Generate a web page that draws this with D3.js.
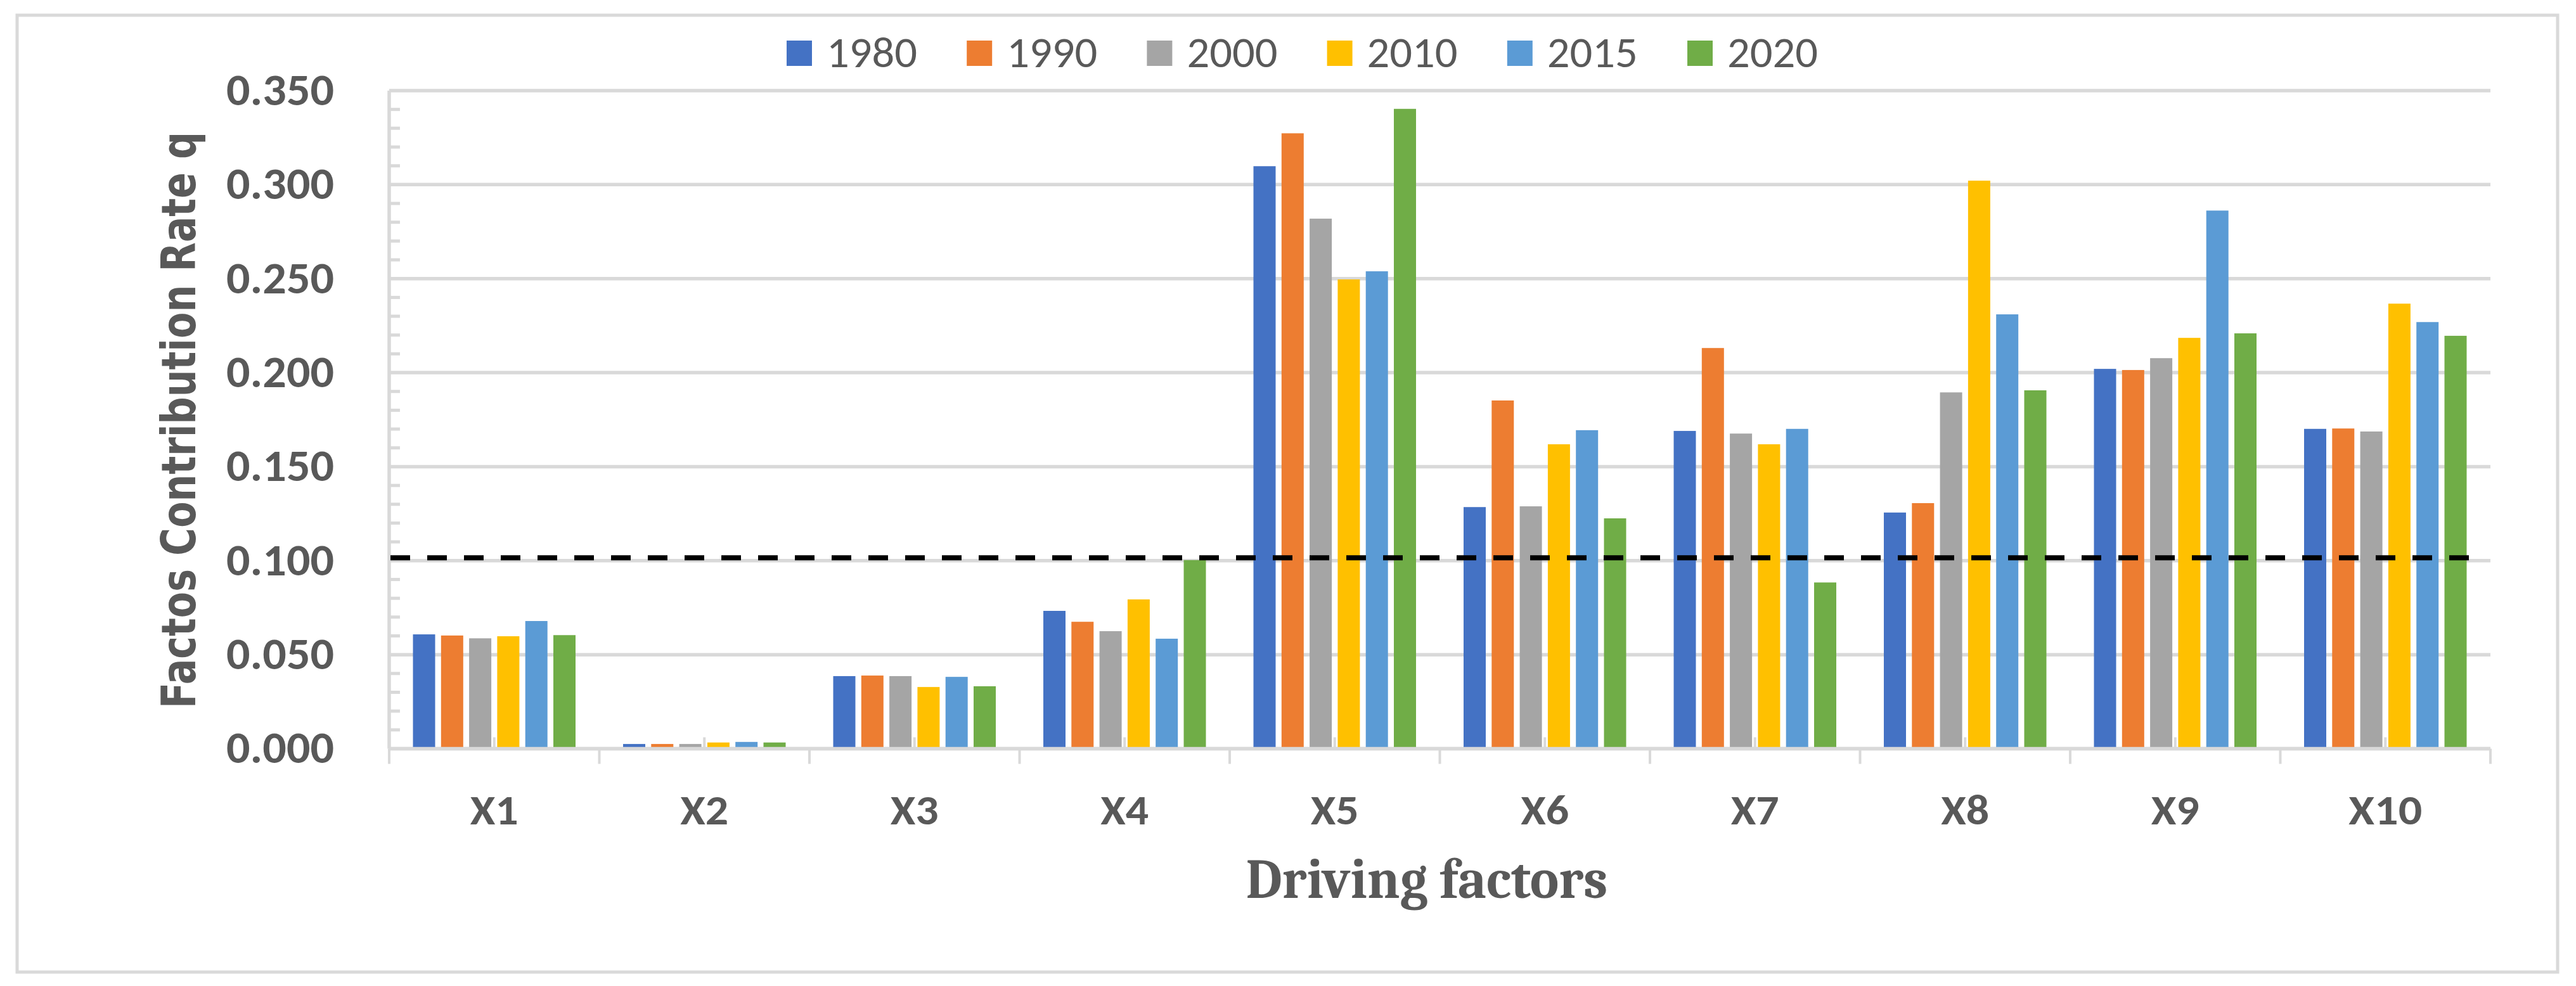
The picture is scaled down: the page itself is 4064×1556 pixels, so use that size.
<!DOCTYPE html>
<html>
<head>
<meta charset="utf-8">
<script src="https://cdn.jsdelivr.net/npm/d3@7"></script>
<style>
  body { margin: 0; background: #fff; }
  svg { display: block; }
</style>
</head>
<body>
<div id="chart"></div>
<script>
var categories = ['X1', 'X2', 'X3', 'X4', 'X5', 'X6', 'X7', 'X8', 'X9', 'X10'];
var years = ['1980', '1990', '2000', '2010', '2015', '2020'];

var v1980 = [0.0608, 0.0025, 0.0386, 0.0733, 0.3098, 0.1285, 0.1690, 0.1256, 0.2020, 0.1701];
var v1990 = [0.0602, 0.0025, 0.0389, 0.0675, 0.3273, 0.1852, 0.2131, 0.1306, 0.2014, 0.1703];
var v2000 = [0.0587, 0.0025, 0.0386, 0.0625, 0.2819, 0.1289, 0.1676, 0.1895, 0.2077, 0.1687];
var v2010 = [0.0598, 0.0033, 0.0328, 0.0794, 0.2496, 0.1619, 0.1619, 0.3021, 0.2185, 0.2367];
var v2015 = [0.0679, 0.0036, 0.0382, 0.0585, 0.2539, 0.1694, 0.1701, 0.2310, 0.2862, 0.2269];
var v2020 = [0.0604, 0.0033, 0.0332, 0.1003, 0.3403, 0.1225, 0.0884, 0.1906, 0.2209, 0.2196];

var yTicks = [0, 0.05, 0.10, 0.15, 0.20, 0.25, 0.30, 0.35];
var threshold = 0.1015;

var series = [v1980, v1990, v2000, v2010, v2015, v2020];
var colors = ['#4472C4', '#ED7D31', '#A5A5A5', '#FFC000', '#5B9BD5', '#70AD47'];

var W = 4064, H = 1556,
    plotLeft = 614, plotRight = 3929, plotTop = 143, plotBottom = 1181.5,
    grey = '#d9d9d9', textCol = '#595959',
    sansFont = 'Calibri, Carlito, Lato, sans-serif';

var svg = d3.select('#chart')
  .append('svg')
    .attr('width', W)
    .attr('height', H);

svg.append('rect')
  .attr('width', W).attr('height', H)
  .attr('fill', '#fff');

// outer frame
svg.append('rect')
  .attr('x', 27).attr('y', 24)
  .attr('width', 4008).attr('height', 1510)
  .attr('fill', 'none')
  .attr('stroke', grey)
  .attr('stroke-width', 5);

var y = d3.scaleLinear().domain([0, 0.35]).range([plotBottom, plotTop]);
var x0 = d3.scaleBand().domain(categories).range([plotLeft, plotRight]);
var pad = 37.5;
var x1 = d3.scaleBand().domain(years)
  .range([pad, x0.bandwidth() - pad])
  .paddingInner(0.21);

// gridlines
svg.append('g').selectAll('line')
  .data(yTicks)
  .enter().append('line')
    .attr('x1', plotLeft).attr('x2', plotRight)
    .attr('y1', function (d) { return y(d); })
    .attr('y2', function (d) { return y(d); })
    .attr('stroke', grey)
    .attr('stroke-width', 5.5);

// minor ticks on y axis
var minor = d3.range(0, 36).filter(function (i) { return i % 5 !== 0; })
  .map(function (i) { return i / 100; });
svg.append('g').selectAll('line')
  .data(minor)
  .enter().append('line')
    .attr('x1', plotLeft).attr('x2', plotLeft + 17)
    .attr('y1', function (d) { return y(d); })
    .attr('y2', function (d) { return y(d); })
    .attr('stroke', grey)
    .attr('stroke-width', 5);

// minor ticks on x axis (category centres)
svg.append('g').selectAll('line')
  .data(categories)
  .enter().append('line')
    .attr('x1', function (d) { return x0(d) + x0.bandwidth() / 2; })
    .attr('x2', function (d) { return x0(d) + x0.bandwidth() / 2; })
    .attr('y1', plotBottom - 18).attr('y2', plotBottom)
    .attr('stroke', grey)
    .attr('stroke-width', 4);

// bars
var groups = svg.append('g').selectAll('g')
  .data(categories)
  .enter().append('g')
    .attr('transform', function (d) { return 'translate(' + x0(d) + ',0)'; });

groups.selectAll('rect')
  .data(function (d, ci) {
    return years.map(function (yr, si) { return { year: yr, value: series[si][ci], color: colors[si] }; });
  })
  .enter().append('rect')
    .attr('x', function (d) { return x1(d.year); })
    .attr('width', x1.bandwidth())
    .attr('y', function (d) { return y(d.value); })
    .attr('height', function (d) { return plotBottom - y(d.value); })
    .attr('fill', function (d) { return d.color; });

// axis lines
svg.append('line')
  .attr('x1', plotLeft).attr('x2', plotRight)
  .attr('y1', plotBottom).attr('y2', plotBottom)
  .attr('stroke', grey).attr('stroke-width', 5.5);
svg.append('line')
  .attr('x1', plotLeft).attr('x2', plotLeft)
  .attr('y1', plotTop).attr('y2', plotBottom)
  .attr('stroke', grey).attr('stroke-width', 5.5);

// category boundary ticks
svg.append('g').selectAll('line')
  .data(categories.map(function (c) { return x0(c); }).concat([plotRight]))
  .enter().append('line')
    .attr('x1', function (d) { return d; })
    .attr('x2', function (d) { return d; })
    .attr('y1', plotBottom).attr('y2', plotBottom + 24)
    .attr('stroke', grey)
    .attr('stroke-width', 4);

// y axis labels
var yAxis = svg.append('g')
  .attr('transform', 'translate(' + plotLeft + ',0)')
  .call(d3.axisLeft(y).tickValues(yTicks).tickFormat(d3.format('.3f')).tickSize(0).tickPadding(87));
yAxis.select('.domain').remove();
yAxis.selectAll('text')
  .attr('fill', textCol)
  .attr('font-family', sansFont)
  .attr('font-weight', 'bold')
  .attr('font-size', 70)
  .attr('textLength', 170)
  .attr('lengthAdjust', 'spacingAndGlyphs');

// x axis labels
var xAxis = svg.append('g')
  .attr('transform', 'translate(0,' + plotBottom + ')')
  .call(d3.axisBottom(x0).tickSize(0));
xAxis.select('.domain').remove();
xAxis.selectAll('text')
  .attr('y', 1301 - plotBottom)
  .attr('dy', 0)
  .attr('fill', textCol)
  .attr('font-family', sansFont)
  .attr('font-weight', 'bold')
  .attr('font-size', 66)
  .attr('textLength', function (d) { return d.length > 2 ? 116 : 76; })
  .attr('lengthAdjust', 'spacingAndGlyphs');

// threshold line
svg.append('line')
  .attr('x1', 616).attr('x2', 3905)
  .attr('y1', y(threshold)).attr('y2', y(threshold))
  .attr('stroke', '#000')
  .attr('stroke-width', 8)
  .attr('stroke-dasharray', '31,27');

// legend
var legend = svg.append('g').selectAll('g')
  .data(years)
  .enter().append('g')
    .attr('transform', function (d, i) { return 'translate(' + (1241 + i * 284.2) + ',64)'; });
legend.append('rect')
  .attr('width', 40).attr('height', 40)
  .attr('fill', function (d, i) { return colors[i]; });
legend.append('text')
  .attr('x', 63).attr('y', 42)
  .attr('fill', textCol)
  .attr('font-family', sansFont)
  .attr('font-size', 68)
  .attr('textLength', 143)
  .attr('lengthAdjust', 'spacingAndGlyphs')
  .text(function (d) { return d; });

// axis titles
svg.append('text')
  .attr('transform', 'translate(308,663) rotate(-90)')
  .attr('text-anchor', 'middle')
  .attr('fill', textCol)
  .attr('font-family', 'Verdana, "DejaVu Sans", sans-serif')
  .attr('font-weight', 'bold')
  .attr('font-size', 74)
  .attr('textLength', 910)
  .attr('lengthAdjust', 'spacingAndGlyphs')
  .text('Factos Contribution Rate q');

svg.append('text')
  .attr('x', 2251).attr('y', 1417)
  .attr('text-anchor', 'middle')
  .attr('fill', textCol)
  .attr('font-family', 'Cambria, "Liberation Serif", serif')
  .attr('font-weight', 'bold')
  .attr('font-size', 89)
  .attr('textLength', 571)
  .attr('lengthAdjust', 'spacingAndGlyphs')
  .text('Driving factors');
</script>
</body>
</html>
